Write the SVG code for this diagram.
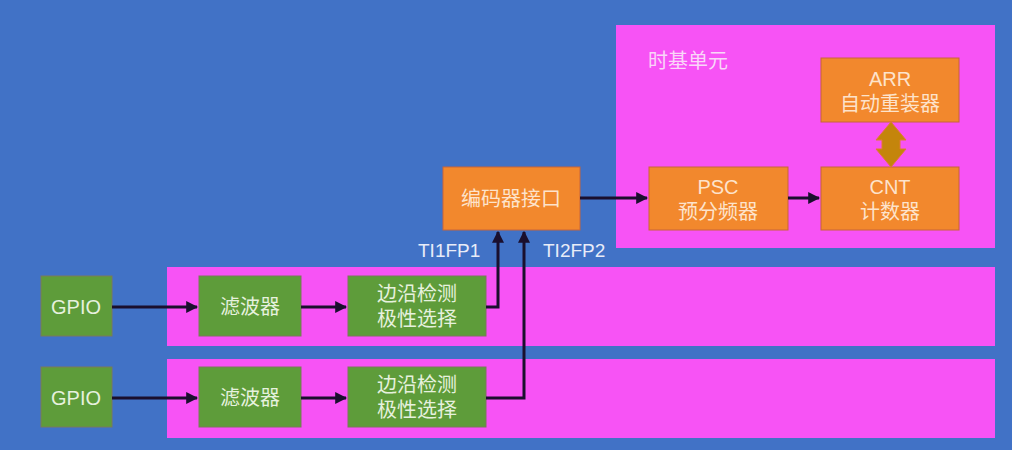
<svg xmlns="http://www.w3.org/2000/svg" width="1012" height="450" viewBox="0 0 1012 450">
<style>
.t{font-family:"Liberation Sans","Noto Sans CJK SC",sans-serif;font-size:20px;text-anchor:middle}
.pink{fill:#f753f5}
.org{fill:#f2882d;stroke:#c8643a;stroke-width:1}
.grn{fill:#5e9c3a;stroke:#7a7a5a;stroke-width:1}
.ot{fill:#fde3cb}
.gt{fill:#e6f1de}
.lbl{font-family:"Liberation Sans","Noto Sans CJK SC",sans-serif;font-size:19px;fill:#e8ecf8}
.c{fill:none;stroke:#1a0f2e;stroke-width:3}
</style>
<defs>
<marker id="ah" viewBox="0 0 10 10" refX="9" refY="5" markerWidth="4" markerHeight="4" orient="auto" markerUnits="strokeWidth">
<path d="M0,0 L10,5 L0,10 z" fill="#1a0f2e"/>
</marker>
</defs>
<rect width="1012" height="450" fill="#4172c6"/>
<g id="timebase">
<rect class="pink" x="616" y="25" width="379" height="223"/>
<text x="648" y="68" class="lbl" style="fill:#f9d6f8;font-size:20px">时基单元</text>
</g>
<g id="band1"><rect class="pink" x="167" y="267" width="828" height="79"/></g>
<g id="band2"><rect class="pink" x="167" y="359" width="828" height="79"/></g>
<g id="arr"><rect class="org" x="821" y="58" width="138" height="64"/>
<text class="t ot" x="890" y="86">ARR</text><text class="t ot" x="890" y="111">自动重装器</text></g>
<g id="psc"><rect class="org" x="649" y="167" width="139" height="63"/>
<text class="t ot" x="718" y="194">PSC</text><text class="t ot" x="718" y="219">预分频器</text></g>
<g id="cnt"><rect class="org" x="821" y="167" width="138" height="63"/>
<text class="t ot" x="890" y="194">CNT</text><text class="t ot" x="890" y="219">计数器</text></g>
<g id="encoder"><rect class="org" x="443" y="167" width="137" height="63"/>
<text class="t ot" x="511" y="206">编码器接口</text></g>
<g id="gpio1"><rect class="grn" x="41" y="276" width="71" height="60"/><text class="t gt" x="76" y="314">GPIO</text></g>
<g id="filter1"><rect class="grn" x="199" y="276" width="102" height="60"/><text class="t gt" x="250" y="314">滤波器</text></g>
<g id="edge1"><rect class="grn" x="348" y="276" width="138" height="60"/>
<text class="t gt" x="417" y="301">边沿检测</text><text class="t gt" x="417" y="326">极性选择</text></g>
<g id="gpio2"><rect class="grn" x="41" y="367" width="71" height="60"/><text class="t gt" x="76" y="405">GPIO</text></g>
<g id="filter2"><rect class="grn" x="199" y="367" width="102" height="60"/><text class="t gt" x="250" y="405">滤波器</text></g>
<g id="edge2"><rect class="grn" x="348" y="367" width="138" height="60"/>
<text class="t gt" x="417" y="392">边沿检测</text><text class="t gt" x="417" y="417">极性选择</text></g>
<g id="connectors">
<path class="c" d="M112,307 H197" marker-end="url(#ah)"/>
<path class="c" d="M301,307 H346" marker-end="url(#ah)"/>
<path class="c" d="M112,398 H197" marker-end="url(#ah)"/>
<path class="c" d="M301,398 H346" marker-end="url(#ah)"/>
<path class="c" d="M486,307 H498 V232" marker-end="url(#ah)"/>
<path class="c" d="M486,398 H524 V232" marker-end="url(#ah)"/>
<path class="c" d="M580,198 H647" marker-end="url(#ah)"/>
<path class="c" d="M788,198 H819" marker-end="url(#ah)"/>
<path d="M891,122 L906,140 L900,140 L900,149 L906,149 L891,167 L876,149 L882,149 L882,140 L876,140 Z" fill="#c4850c" stroke="#e07a30" stroke-width="1"/>
<text class="lbl" x="418" y="257">TI1FP1</text>
<text class="lbl" x="543" y="257">TI2FP2</text>
</g>
</svg>
